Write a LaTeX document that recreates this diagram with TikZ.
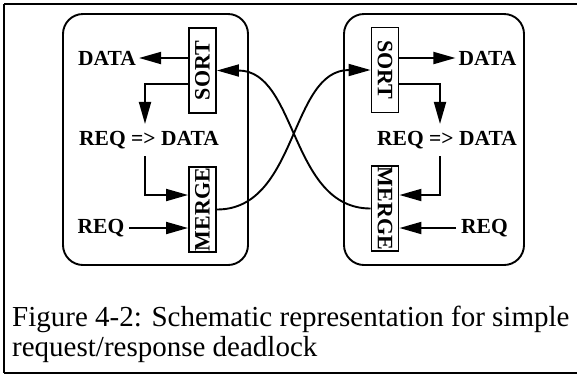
\documentclass[tikz,border=0pt]{standalone}
\usepackage{fontspec}
\setmainfont{Liberation Serif}
\usepackage{graphicx}
\usetikzlibrary{arrows.meta}

\tikzset{
  lbl/.style={font=\fontsize{21.5}{21.5}\selectfont\bfseries, inner sep=3pt},
  procbox/.style={draw, line width=1.9pt, minimum width=27pt, minimum height=85pt, inner sep=0pt,
    font=\fontsize{22}{22}\selectfont\bfseries},
  arr/.style={line width=1.9pt, -{Triangle[length=22pt,width=12pt]}},
}

\begin{document}
\begin{tikzpicture}[x=1pt,y=-1pt]
\useasboundingbox (0,0) rectangle (577,376);
%\draw [help lines] (0,0) grid[step=50] (577,376);
% frame
\draw [line width=1.2pt] (577,4) -- (4,4);
\draw [line width=1.8pt] (4,4) -- (4,373);
\draw [line width=1.4pt] (4,373) -- (577,373);

% left unit
\draw [line width=1.9pt, rounded corners=20pt] (63,14) rectangle (248,265);
\node[procbox] (sortL) at (202.5,70.5) {\rotatebox{90}{SORT}};
\node[procbox] (mergeL) at (202.5,209.5) {\rotatebox{90}{MERGE}};
\node[lbl] (dataL) at (107,58) {DATA};
\node[lbl, inner ysep=7pt] (reqdataL) at (149,140) {REQ => DATA};
\node[lbl, inner xsep=5pt] (reqL) at (101,228) {REQ};

% right unit
\draw [line width=1.9pt, rounded corners=20pt] (344,14) rectangle (524,265);
\node[procbox] (sortR) at (385,70) {\rotatebox{-90}{SORT}};
\node[procbox] (mergeR) at (385,208.5) {\rotatebox{-90}{MERGE}};
\node[lbl] (dataR) at (487.5,58) {DATA};
\node[lbl, inner ysep=7pt] (reqdataR) at (447,140) {REQ => DATA};
\node[lbl, inner xsep=5pt] (reqR) at (484.5,228) {REQ};

% inside left
\draw [arr] (sortL.west |- dataL.east) -- (dataL.east);
\draw [arr] ([yshift=-13.5pt]sortL.west) -| ([xshift=-4pt]reqdataL.north);
\draw [arr] ([xshift=-4pt]reqdataL.south) |- ([yshift=14.5pt]mergeL.west);
\draw [arr] (reqL.east) -- (mergeL.west |- reqL.east);

% inside right
\draw [arr] (sortR.east |- dataR.west) -- (dataR.west);
\draw [arr] ([yshift=-14pt]sortR.east) -| ([xshift=-7pt]reqdataR.north);
\draw [arr] ([xshift=-7pt]reqdataR.south) |- ([yshift=13.5pt]mergeR.east);
\draw [arr] (reqR.west) -- (mergeR.east |- reqR.west);

% crossing
\draw [arr] (mergeL.east) to[out=0,in=180] (sortR.west);
\draw [arr] (mergeR.west) to[out=180,in=0] (sortL.east);

\node[anchor=base west, font=\fontsize{29}{30}\selectfont, align=left, inner sep=0pt] (caption) at (12,356.5)
  {Figure 4-2: Schematic representation for simple\\request/response deadlock};
\end{tikzpicture}
\end{document}
